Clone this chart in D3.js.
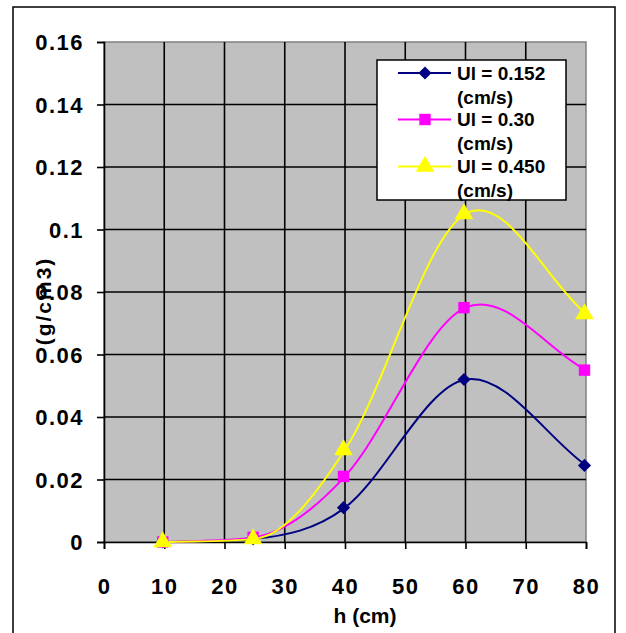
<!DOCTYPE html>
<html><head><meta charset="utf-8">
<script src="https://cdn.jsdelivr.net/npm/d3@7"></script>
<style>
html,body{margin:0;padding:0;background:#fff;}
text{font-family:Arial,"Liberation Sans",sans-serif;font-weight:bold;}
</style></head>
<body><svg id="c" width="626" height="633"></svg>
<script>
const hValues = [10, 25, 40, 60, 80];
const seriesNames = ["Ul = 0.152", "Ul = 0.30", "Ul = 0.450"];
const s152 = [0, 0.001, 0.011, 0.052, 0.0245];
const s030 = [0, 0.0015, 0.021, 0.075, 0.055];
const s450 = [0, 0.001, 0.0295, 0.105, 0.073];
const xTicks = [0, 10, 20, 30, 40, 50, 60, 70, 80];
const yTicks = [0, 0.02, 0.04, 0.06, 0.08, 0.1, 0.12, 0.14, 0.16];
const colors = ["#000080", "#FF00FF", "#FFFF00"];
const symbols = [d3.symbolDiamond2, d3.symbolSquare, d3.symbolTriangle];

// Smooth curve (Catmull-Rom style tangents, limited on monotone stretches)
function SmoothCurve(context) { this._context = context; }
SmoothCurve.prototype = {
  areaStart() {}, areaEnd() {},
  lineStart() { this._p = []; },
  point(x, y) { this._p.push([+x, +y]); },
  lineEnd() {
    const p = this._p, n = p.length, c = this._context;
    if (!n) return;
    c.moveTo(p[0][0], p[0][1]);
    if (n < 3) { for (let i = 1; i < n; i++) c.lineTo(p[i][0], p[i][1]); return; }
    const s = [];
    for (let i = 0; i < n - 1; i++) s.push((p[i + 1][1] - p[i][1]) / (p[i + 1][0] - p[i][0]));
    const m = new Array(n);
    m[0] = s[0]; m[n - 1] = s[n - 2];
    for (let i = 1; i < n - 1; i++) {
      let t = (p[i + 1][1] - p[i - 1][1]) / (p[i + 1][0] - p[i - 1][0]);
      if (s[i - 1] * s[i] > 0) {
        const lim = 3 * Math.min(Math.abs(s[i - 1]), Math.abs(s[i]));
        if (Math.abs(t) > lim) t = Math.sign(t) * lim;
      }
      m[i] = t;
    }
    for (let i = 0; i < n - 1; i++) {
      const h = (p[i + 1][0] - p[i][0]) / 3;
      c.bezierCurveTo(p[i][0] + h, p[i][1] + m[i] * h,
                      p[i + 1][0] - h, p[i + 1][1] - m[i + 1] * h,
                      p[i + 1][0], p[i + 1][1]);
    }
  }
};
const smoothCurve = ctx => new SmoothCurve(ctx);

const svg = d3.select("#c");
const L = 104, R = 586, T = 42, B = 542;
const x = d3.scaleLinear().domain([0, 80]).range([L, R]);
const y = d3.scaleLinear().domain([0, 0.16]).range([B, T]);

// outer border
svg.append("rect").attr("x", 13).attr("y", 7).attr("width", 602).attr("height", 640)
  .attr("fill", "#fff").attr("stroke", "#000").attr("stroke-width", 1.5);

// plot area
svg.append("rect").attr("x", L).attr("y", T).attr("width", R - L).attr("height", B - T)
  .attr("fill", "#C0C0C0").attr("stroke", "#808080").attr("stroke-width", 1.5);

// gridlines
const g = svg.append("g");
g.selectAll(".hg").data(yTicks.filter(d => d > 0 && d < 0.16)).enter().append("line")
  .attr("x1", L).attr("x2", R).attr("y1", d => y(d)).attr("y2", d => y(d))
  .attr("stroke", "#000").attr("stroke-width", 1.6);
g.selectAll(".vg").data(xTicks.filter(d => d > 0 && d < 80)).enter().append("line")
  .attr("y1", T).attr("y2", B).attr("x1", d => x(d)).attr("x2", d => x(d))
  .attr("stroke", "#000").attr("stroke-width", 1.6);

// axes
const yAxis = d3.axisLeft(y).tickValues(yTicks).tickSize(7).tickPadding(13)
  .tickFormat(d => d === 0 ? "0" : String(+d.toFixed(2)));
const ya = svg.append("g").attr("transform", `translate(${L},0)`).call(yAxis);
const xAxis = d3.axisBottom(x).tickValues(xTicks).tickSize(7).tickPadding(29);
const xa = svg.append("g").attr("transform", `translate(0,${B})`).call(xAxis);
[ya, xa].forEach(a => {
  a.select(".domain").attr("stroke", "#000").attr("stroke-width", 1.6);
  a.selectAll(".tick line").attr("stroke", "#000").attr("stroke-width", 1.6);
  a.selectAll(".tick text").attr("fill", "#000").style("font-size", "22px")
    .style("font-weight", "bold").style("font-family", "Arial, 'Liberation Sans', sans-serif")
    .attr("letter-spacing", "1.5");
});
ya.selectAll(".tick text").attr("dy", "0.36em");

// axis titles
svg.append("text").attr("x", 365).attr("y", 623).attr("text-anchor", "middle")
  .style("font-size", "21px").text("h (cm)");
svg.append("text").attr("transform", "translate(51,301) rotate(-90)")
  .attr("text-anchor", "middle").style("font-size", "21px").attr("letter-spacing", "2")
  .text("(g/cm3)");

// series
const allSeries = [s152, s030, s450];
const line = d3.line().x(d => x(d[0])).y(d => y(d[1])).curve(smoothCurve);
const sizes = [110, 130, 150];
allSeries.forEach((s, i) => {
  const pts = hValues.map((h, k) => [h, s[k]]);
  svg.append("path").attr("d", line(pts)).attr("fill", "none")
    .attr("stroke", colors[i]).attr("stroke-width", 2);
});
allSeries.forEach((s, i) => {
  const pts = hValues.map((h, k) => [h, s[k]]);
  svg.selectAll(null).data(pts).enter().append("path")
    .attr("d", d3.symbol().type(symbols[i]).size(sizes[i]))
    .attr("transform", d => `translate(${x(d[0]) - 1.5},${y(d[1])})`)
    .attr("fill", colors[i]);
});

// legend
const lg = svg.append("g");
lg.append("rect").attr("x", 377).attr("y", 60).attr("width", 189).attr("height", 140)
  .attr("fill", "#fff").attr("stroke", "#000").attr("stroke-width", 1.5);
const rowY = [73, 119.5, 166.5];
seriesNames.forEach((n, i) => {
  lg.append("line").attr("x1", 398).attr("x2", 451).attr("y1", rowY[i]).attr("y2", rowY[i])
    .attr("stroke", colors[i]).attr("stroke-width", 2);
  lg.append("path").attr("d", d3.symbol().type(symbols[i]).size(sizes[i]))
    .attr("transform", `translate(425,${rowY[i]})`).attr("fill", colors[i]);
  lg.append("text").attr("x", 457).attr("y", rowY[i] + 6.5).style("font-size", "19px")
    .text(n);
  lg.append("text").attr("x", 457).attr("y", rowY[i] + 30.5).style("font-size", "19px")
    .text("(cm/s)");
});
</script></body></html>
